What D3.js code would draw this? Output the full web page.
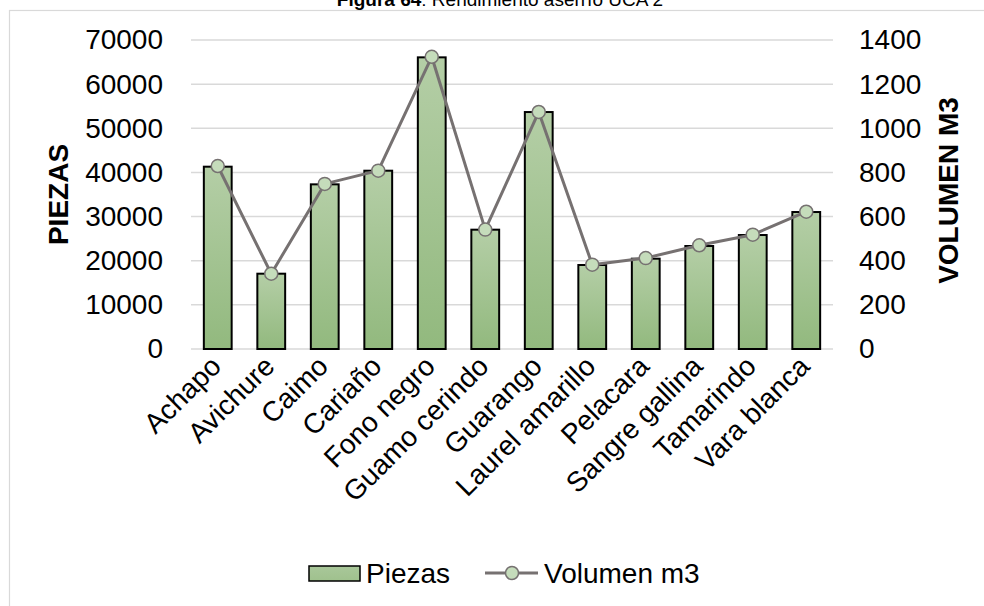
<!DOCTYPE html>
<html>
<head>
<meta charset="utf-8">
<script src="https://cdn.jsdelivr.net/npm/d3@7/dist/d3.min.js"></script>
<style>
  html, body { margin: 0; padding: 0; background: #fff; }
  svg { display: block; }
  text { font-family: "Liberation Sans", Arial, sans-serif; fill: #000; }
</style>
</head>
<body>
<svg id="chart" width="984" height="606"></svg>
<script>
// Species sampled
const categories = ["Achapo", "Avichure", "Caimo", "Cariaño", "Fono negro", "Guamo cerindo",
  "Guarango", "Laurel amarillo", "Pelacara", "Sangre gallina", "Tamarindo", "Vara blanca"];
// Pieces obtained per species (bars, left axis)
const piezas = [41300, 17060, 37300, 40390, 66070, 27030, 53680, 19030, 20460, 23330, 25820, 31030];
// Sawn volume in m3 per species (line, right axis)
const volumen = [829, 341, 748, 808, 1324, 541, 1074, 382, 412, 470, 518, 622];
// Axis ticks
const leftTicks = [0, 10000, 20000, 30000, 40000, 50000, 60000, 70000];
const rightTicks = [0, 200, 400, 600, 800, 1000, 1200, 1400];

const svg = d3.select("#chart");
const W = 984, H = 606;
const plot = { left: 191, right: 833, top: 40, bottom: 349 };

// Outer frame (only left and top edges fall inside the view)
svg.append("rect")
  .attr("x", 9.5).attr("y", 10.5)
  .attr("width", W + 20).attr("height", H + 20)
  .attr("fill", "none").attr("stroke", "#d9d9d9").attr("stroke-width", 1.2);

// Title
const title = svg.append("text")
  .attr("x", 500).attr("y", 6)
  .attr("text-anchor", "middle")
  .style("font-size", "19px");
title.append("tspan").style("font-weight", "bold").text("Figura 64");
title.append("tspan").text(": Rendimiento aserrío UCA 2");

const x = d3.scaleBand().domain(categories).range([plot.left, plot.right]).paddingInner(0.48).paddingOuter(0.24);
const yL = d3.scaleLinear().domain([0, 70000]).range([plot.bottom, plot.top]);
const yR = d3.scaleLinear().domain([0, 1400]).range([plot.bottom, plot.top]);

// Gridlines
svg.append("g").selectAll("line").data(leftTicks).join("line")
  .attr("x1", plot.left).attr("x2", plot.right)
  .attr("y1", d => yL(d)).attr("y2", d => yL(d))
  .attr("stroke", "#d9d9d9").attr("stroke-width", 1.5);

// Left axis labels
const axL = svg.append("g").attr("transform", `translate(${plot.left},0)`)
  .call(d3.axisLeft(yL).tickValues(leftTicks).tickFormat(d3.format("d")).tickSize(0).tickPadding(28));
axL.select(".domain").remove();
axL.selectAll("text").style("font-size", "28px").attr("fill", "#000")
  .style("font-family", '"Liberation Sans", Arial, sans-serif');

// Right axis labels
const axR = svg.append("g").attr("transform", `translate(${plot.right},0)`)
  .call(d3.axisRight(yR).tickValues(rightTicks).tickFormat(d3.format("d")).tickSize(0).tickPadding(26));
axR.select(".domain").remove();
axR.selectAll("text").style("font-size", "28px").attr("fill", "#000")
  .style("font-family", '"Liberation Sans", Arial, sans-serif');

// Bar gradient
const defs = svg.append("defs");
const grad = defs.append("linearGradient").attr("id", "barFill")
  .attr("x1", 0).attr("y1", 0).attr("x2", 0).attr("y2", 1);
grad.append("stop").attr("offset", "0%").attr("stop-color", "#b4cea6");
grad.append("stop").attr("offset", "100%").attr("stop-color", "#92b97e");
const gradL = defs.append("linearGradient").attr("id", "legFill")
  .attr("x1", 0).attr("y1", 0).attr("x2", 0).attr("y2", 1);
gradL.append("stop").attr("offset", "0%").attr("stop-color", "#a9c79a");
gradL.append("stop").attr("offset", "100%").attr("stop-color", "#9fc18d");

// Bars
svg.append("g").selectAll("rect").data(piezas).join("rect")
  .attr("x", (d, i) => x(categories[i]))
  .attr("y", d => yL(d))
  .attr("width", x.bandwidth())
  .attr("height", d => yL(0) - yL(d))
  .attr("fill", "url(#barFill)")
  .attr("stroke", "#000").attr("stroke-width", 2);

// Category labels, rotated
svg.append("g").selectAll("text").data(categories).join("text")
  .attr("transform", d => `translate(${x(d) + x.bandwidth() / 2 - 2},${361}) rotate(-45)`)
  .attr("text-anchor", "end")
  .attr("dy", "0.35em")
  .style("font-size", "28px")
  .text(d => d);

// Volume line
const cx = i => x(categories[i]) + x.bandwidth() / 2;
const line = d3.line().x((d, i) => cx(i)).y(d => yR(d));
svg.append("path").datum(volumen)
  .attr("d", line)
  .attr("fill", "none").attr("stroke", "#767171").attr("stroke-width", 3)
  .attr("stroke-linejoin", "round");
svg.append("g").selectAll("circle").data(volumen).join("circle")
  .attr("cx", (d, i) => cx(i)).attr("cy", d => yR(d))
  .attr("r", 6.5)
  .attr("fill", "#c5dcbb").attr("stroke", "#767171").attr("stroke-width", 1.5);

// Axis titles
svg.append("text")
  .attr("transform", `translate(58,${(plot.top + plot.bottom) / 2}) rotate(-90)`)
  .attr("text-anchor", "middle").attr("dy", "0.35em")
  .style("font-size", "28px").style("font-weight", "bold")
  .text("PIEZAS");
svg.append("text")
  .attr("transform", `translate(948,${(plot.top + plot.bottom) / 2 - 4}) rotate(-90)`)
  .attr("text-anchor", "middle").attr("dy", "0.35em")
  .style("font-size", "28px").style("font-weight", "bold")
  .text("VOLUMEN M3");

// Legend
const leg = svg.append("g");
leg.append("rect").attr("x", 309).attr("y", 566).attr("width", 51).attr("height", 15)
  .attr("fill", "url(#legFill)").attr("stroke", "#000").attr("stroke-width", 1.5);
leg.append("text").attr("x", 366).attr("y", 573).attr("dy", "0.35em")
  .style("font-size", "28px").text("Piezas");
leg.append("line").attr("x1", 485).attr("x2", 538).attr("y1", 573).attr("y2", 573)
  .attr("stroke", "#767171").attr("stroke-width", 3);
leg.append("circle").attr("cx", 512).attr("cy", 573).attr("r", 6.5)
  .attr("fill", "#c5dcbb").attr("stroke", "#767171").attr("stroke-width", 1.5);
leg.append("text").attr("x", 544).attr("y", 573).attr("dy", "0.35em")
  .style("font-size", "28px").text("Volumen m3");
</script>
</body>
</html>
